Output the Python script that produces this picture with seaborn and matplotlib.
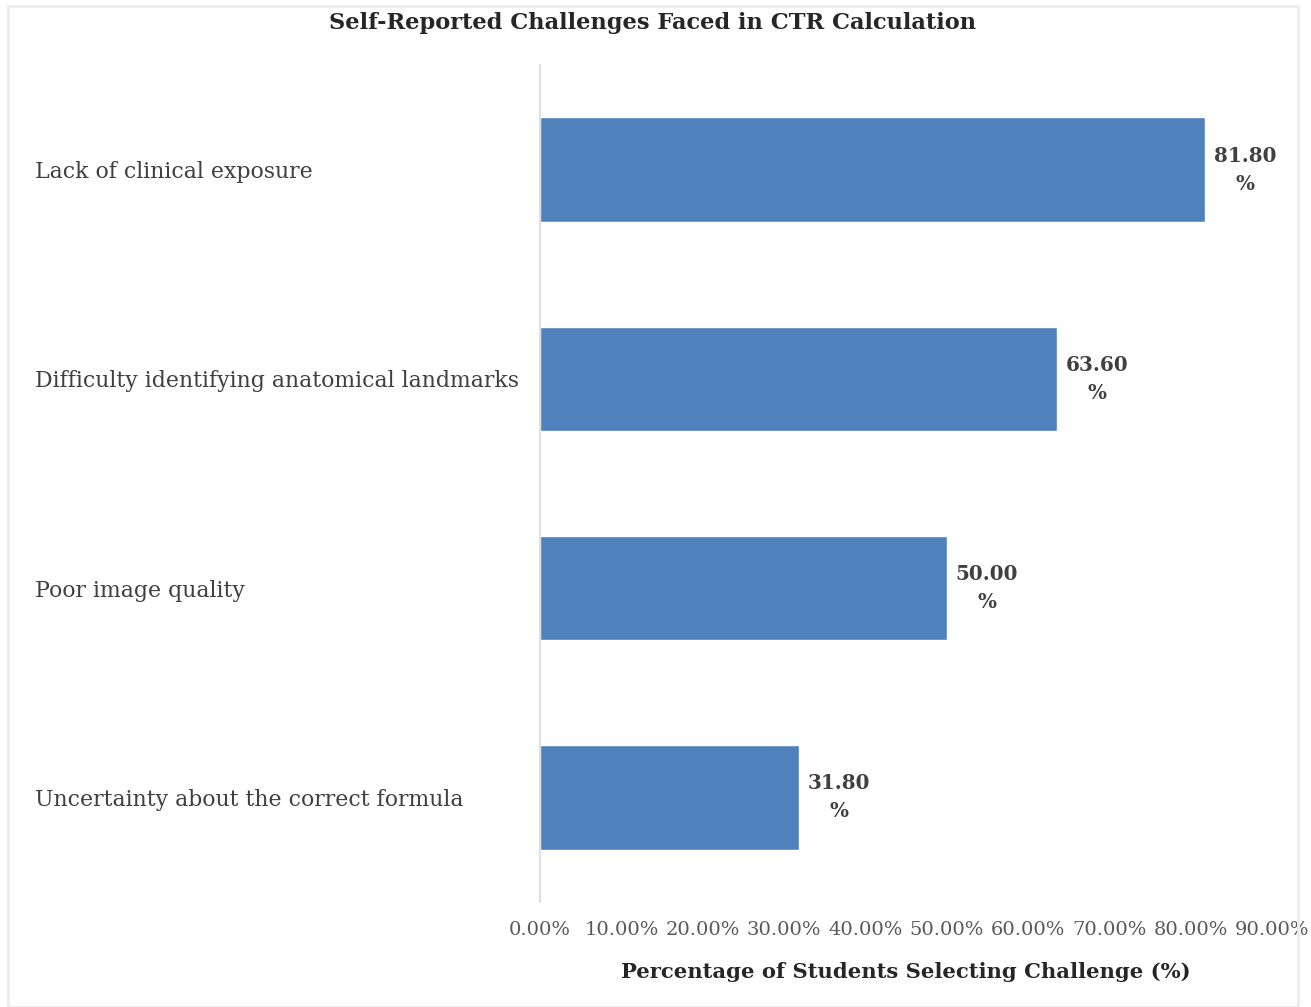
import matplotlib
matplotlib.use("Agg")
import matplotlib.pyplot as plt
import seaborn as sns
import pandas as pd
from matplotlib.patches import Rectangle

categories = [
    "Lack of clinical exposure",
    "Difficulty identifying anatomical landmarks",
    "Poor image quality",
    "Uncertainty about the correct formula",
]
values = [81.80, 63.60, 50.00, 31.80]
xticks = [0, 10, 20, 30, 40, 50, 60, 70, 80, 90]
xtick_labels = ["0.00%", "10.00%", "20.00%", "30.00%", "40.00%",
                "50.00%", "60.00%", "70.00%", "80.00%", "90.00%"]

sns.set_theme(style="white")
plt.rcParams["font.family"] = ["DejaVu Serif"]

df = pd.DataFrame({"Challenge": categories, "Pct": values})

W, H = 1311, 1007
fig = plt.figure(figsize=(W / 100, H / 100), dpi=100)
fig.patch.set_facecolor("white")
ax = fig.add_axes([540 / W, 1 - 902 / H, (1272 - 540) / W, (902 - 65) / H])

sns.barplot(data=df, y="Challenge", x="Pct", orient="h", color="#4f81bd",
            saturation=1, width=0.5, ax=ax)

ax.set_xlim(0, 90)
ax.set_ylim(3.5, -0.5)
ax.set_xticks(xticks)
ax.set_xticklabels(xtick_labels, fontsize=14, color="#595959")
ax.tick_params(axis="x", length=0, pad=13.5)
ax.set_yticks(range(len(categories)))
ax.set_yticklabels(categories, fontsize=15.8, color="#404040", ha="left")
ax.tick_params(axis="y", length=0, pad=(540 - 35) / 100 * 72)

for s in ["top", "right", "bottom"]:
    ax.spines[s].set_visible(False)
ax.spines["left"].set_color("#d9d9d9")
ax.spines["left"].set_linewidth(1.2)

ax.set_ylabel("")
ax.set_xlabel("Percentage of Students Selecting Challenge (%)", fontsize=15.2,
              fontweight="bold", color="#262626", labelpad=17)

for i, v in enumerate(values):
    ax.annotate(f"{v:.2f}\n%", xy=(v, i), xytext=(40, 0), textcoords="offset pixels",
                ha="center", va="center", multialignment="center",
                fontsize=14.4, fontweight="bold", color="#404040", linespacing=1.5)

fig.text(653 / W, 1 - 23 / H, "Self-Reported Challenges Faced in CTR Calculation",
         ha="center", va="center", fontsize=16.2, fontweight="bold", color="#262626")

fig.patches.append(Rectangle((8 / W, 0), (1298 - 8) / W, 1 - 6 / H,
                             transform=fig.transFigure, fill=False,
                             edgecolor="#ececec", linewidth=2))

fig.savefig("out.png", dpi=100)
